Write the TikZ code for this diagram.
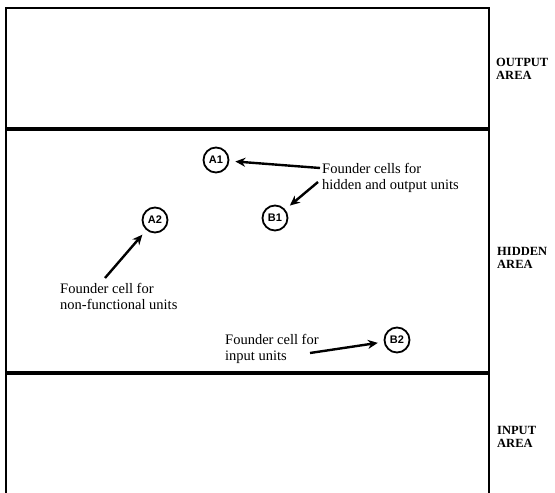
\documentclass[tikz,border=0pt]{standalone}
\usepackage{fontspec}
\setmainfont{Liberation Serif}
\newfontfamily\cellfont{Liberation Sans}
\usetikzlibrary{arrows.meta}

\begin{document}
\begin{tikzpicture}[x=1pt, y=-1pt,
    cell/.style={draw, circle, line width=1.8pt, inner sep=0pt, minimum size=25pt,
      font=\cellfont\bfseries\fontsize{11}{11}\selectfont},
    note/.style={anchor=north west, align=left, inner sep=0pt,
      font=\fontsize{14.5}{16.5}\selectfont},
    area/.style={anchor=west, align=left, inner sep=0pt,
      font=\bfseries\fontsize{12.5}{13.5}\selectfont},
    pointer/.style={-{Stealth[length=10pt, width=9pt]}, line width=2.4pt, shorten >=6pt}]

      \useasboundingbox (0,0) rectangle (555,493);

      \draw[line width=2pt] (6,493) -- (6,8) -- (489,8) -- (489,493);
      \draw[line width=3.6pt] (6,129) -- (489,129);
      \draw[line width=3.6pt] (6,373) -- (489,373);

      \node (output) [area] at (496,69) {OUTPUT\\AREA};
      \node (hidden) [area] at (497,258) {HIDDEN\\AREA};
      \node (input)  [area] at (497,437) {INPUT\\AREA};

      \node (a1) [cell] at (216,160) {A1};
      \node (a2) [cell] at (155,220) {A2};
      \node (b1) [cell] at (275,218) {B1};
      \node (b2) [cell] at (397,340) {B2};

      \node (notehid) [note] at (322,163) {Founder cells for\\hidden and output units};
      \node (notenon) [note] at (60,283) {Founder cell for\\non-functional units};
      \node (noteinp) [note] at (225,334) {Founder cell for\\input units};

      \coordinate (tailA1) at (320,168);
      \coordinate (tailB1) at (318,182);
      \coordinate (tailA2) at (105,278);
      \coordinate (tailB2) at (310,353);

      \draw[pointer] (tailA1) -- (a1);
      \draw[pointer] (tailB1) -- (b1);
      \draw[pointer] (tailA2) -- (a2);
      \draw[pointer] (tailB2) -- (b2);

\end{tikzpicture}
\end{document}
